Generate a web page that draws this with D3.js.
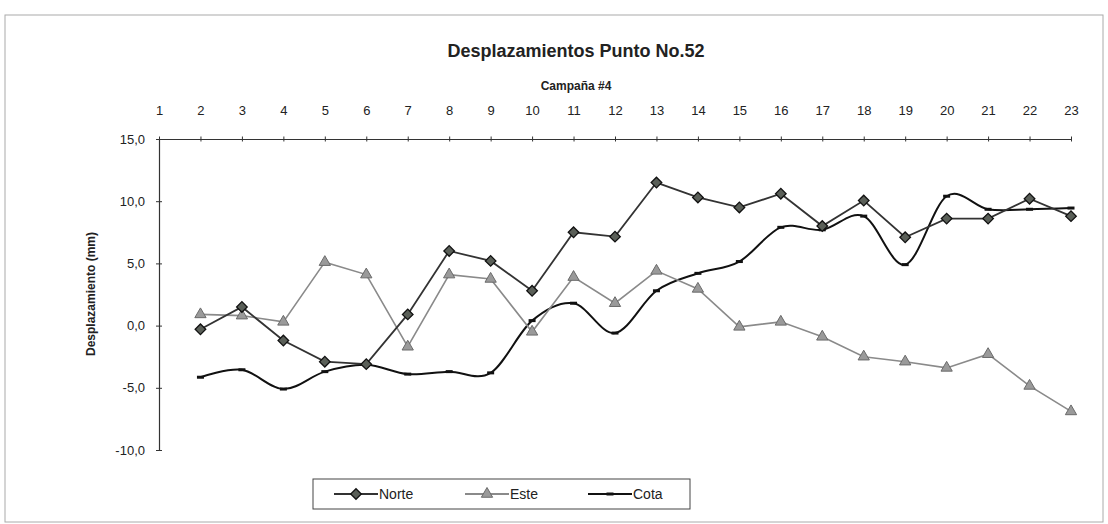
<!DOCTYPE html>
<html>
<head>
<meta charset="utf-8">
<script src="https://cdn.jsdelivr.net/npm/d3@7"></script>
<style>
  body { margin: 0; background: #fff; }
  text { font-family: "Liberation Sans", Arial, sans-serif; fill: #222; }
</style>
</head>
<body>
<script>

var width = 1108,
    height = 524;

// campaigns on the top axis
var axisLabels = d3.range(1, 24);
var campaigns = d3.range(2, 24);

var norte = [-0.3, 1.5, -1.2, -2.9, -3.1, 0.9, 6.0, 5.2, 2.8, 7.5, 7.15,
             11.5, 10.3, 9.5, 10.6, 8.0, 10.05, 7.1, 8.6, 8.6, 10.2, 8.8];
var este = [0.9, 0.8, 0.3, 5.1, 4.1, -1.7, 4.1, 3.75, -0.5, 3.9, 1.8,
            4.4, 2.95, -0.1, 0.3, -0.9, -2.5, -2.9, -3.4, -2.3, -4.85, -6.9];
var cota = [-4.15, -3.55, -5.1, -3.7, -3.15, -3.9, -3.7, -3.8, 0.4, 1.8, -0.6,
            2.8, 4.2, 5.15, 7.9, 7.7, 8.8, 4.9, 10.4, 9.35, 9.35, 9.45];

var yTicks = [15, 10, 5, 0, -5, -10];

var svg = d3.select("body").append("svg")
    .attr("width", width)
    .attr("height", height);

// faint frame of the scanned chart
svg.append("rect")
    .attr("x", 5).attr("y", 15)
    .attr("width", 1098).attr("height", 507)
    .attr("fill", "none")
    .attr("stroke", "#aaa")
    .attr("stroke-width", 1);

var x = d3.scaleLinear().domain([1, 23]).range([159, 1071]);
var y = d3.scaleLinear().domain([-10, 15]).range([450, 139]);

// title
svg.append("text")
    .attr("x", 576).attr("y", 57)
    .attr("text-anchor", "middle")
    .style("font-size", "18px")
    .style("font-weight", "bold")
    .text("Desplazamientos Punto No.52");

svg.append("text")
    .attr("x", 576).attr("y", 90)
    .attr("text-anchor", "middle")
    .style("font-size", "12px")
    .style("font-weight", "bold")
    .text("Campaña #4");

// top category axis
var xAxis = d3.axisTop(x)
    .tickValues(axisLabels)
    .tickFormat(d3.format("d"))
    .tickSizeInner(5)
    .tickSizeOuter(0)
    .tickPadding(19);

var gx = svg.append("g")
    .attr("transform", "translate(0," + y(15) + ")")
    .call(xAxis);

gx.selectAll(".tick line").attr("transform", "translate(0,2.5)");

// left value axis
var yAxis = d3.axisLeft(y)
    .tickValues(yTicks)
    .tickFormat(function(d) { return d3.format(".1f")(d).replace(".", ",").replace("−", "-"); })
    .tickSizeInner(6)
    .tickSizeOuter(0)
    .tickPadding(8);

var gy = svg.append("g")
    .attr("transform", "translate(" + x(1) + ",0)")
    .call(yAxis);

gy.selectAll(".tick line").attr("transform", "translate(3,0)");

[gx, gy].forEach(function(g) {
  g.selectAll(".domain").attr("stroke", "#333").attr("stroke-width", 1.2);
  g.selectAll(".tick line").attr("stroke", "#333");
  g.selectAll("text")
    .style("font-size", "13px")
    .style("font-family", "'Liberation Sans', Arial, sans-serif")
    .attr("fill", "#333");
});

svg.append("text")
    .attr("transform", "translate(95,294) rotate(-90)")
    .attr("text-anchor", "middle")
    .style("font-size", "12px")
    .style("font-weight", "bold")
    .text("Desplazamiento (mm)");

// series
var straight = d3.line()
    .x(function(d, i) { return x(campaigns[i]); })
    .y(function(d) { return y(d); });

var smooth = d3.line()
    .x(function(d, i) { return x(campaigns[i]); })
    .y(function(d) { return y(d); })
    .curve(d3.curveCardinal.tension(0));

// square turned 45 degrees gives the Excel style diamond
var diamond = d3.symbol().type(d3.symbolSquare).size(56);
var triangle = d3.symbol().type(d3.symbolTriangle).size(55);

// Cota: smoothed black line with small dash markers
svg.append("path")
    .datum(cota)
    .attr("d", smooth)
    .attr("fill", "none")
    .attr("stroke", "#111")
    .attr("stroke-width", 2);

svg.selectAll(".cota").data(cota)
  .enter().append("rect")
    .attr("class", "cota")
    .attr("x", function(d, i) { return x(campaigns[i]) - 3.5; })
    .attr("y", function(d) { return y(d) - 1.5; })
    .attr("width", 7)
    .attr("height", 3)
    .attr("fill", "#111");

// Este: gray line with triangles
svg.append("path")
    .datum(este)
    .attr("d", straight)
    .attr("fill", "none")
    .attr("stroke", "#8a8a8a")
    .attr("stroke-width", 1.6);

svg.selectAll(".este").data(este)
  .enter().append("path")
    .attr("class", "este")
    .attr("d", triangle)
    .attr("transform", function(d, i) { return "translate(" + x(campaigns[i]) + "," + y(d) + ")"; })
    .attr("fill", "#9a9a9a")
    .attr("stroke", "#6a6a6a")
    .attr("stroke-width", 1);

// Norte: dark line with diamonds
svg.append("path")
    .datum(norte)
    .attr("d", straight)
    .attr("fill", "none")
    .attr("stroke", "#333")
    .attr("stroke-width", 1.8);

svg.selectAll(".norte").data(norte)
  .enter().append("path")
    .attr("class", "norte")
    .attr("d", diamond)
    .attr("transform", function(d, i) { return "translate(" + x(campaigns[i]) + "," + y(d) + ") rotate(45)"; })
    .attr("fill", "#5a5f58")
    .attr("stroke", "#111")
    .attr("stroke-width", 1.3);

// legend
var legend = svg.append("g");

legend.append("rect")
    .attr("x", 313).attr("y", 479)
    .attr("width", 377).attr("height", 30)
    .attr("fill", "#fff")
    .attr("stroke", "#444")
    .attr("stroke-width", 1);

var items = [
  { name: "Norte", x: 334, color: "#333", mark: "diamond" },
  { name: "Este", x: 465, color: "#8a8a8a", mark: "triangle" },
  { name: "Cota", x: 588, color: "#111", mark: "dash" }
];

items.forEach(function(it) {
  var g = legend.append("g").attr("transform", "translate(" + it.x + ",494)");
  g.append("line")
    .attr("x1", 0).attr("x2", 44)
    .attr("stroke", it.color)
    .attr("stroke-width", 2);
  if (it.mark == "diamond") {
    g.append("path").attr("d", diamond).attr("transform", "translate(22,0) rotate(45)")
      .attr("fill", "#5a5f58").attr("stroke", "#111").attr("stroke-width", 1.3);
  } else if (it.mark == "triangle") {
    g.append("path").attr("d", triangle).attr("transform", "translate(22,0)")
      .attr("fill", "#9a9a9a").attr("stroke", "#6a6a6a");
  } else {
    g.append("rect").attr("x", 18.5).attr("y", -1.5).attr("width", 7).attr("height", 3)
      .attr("fill", "#111");
  }
  g.append("text")
    .attr("x", 45).attr("y", 5)
    .style("font-size", "14px")
    .text(it.name);
});

</script>
</body>
</html>
